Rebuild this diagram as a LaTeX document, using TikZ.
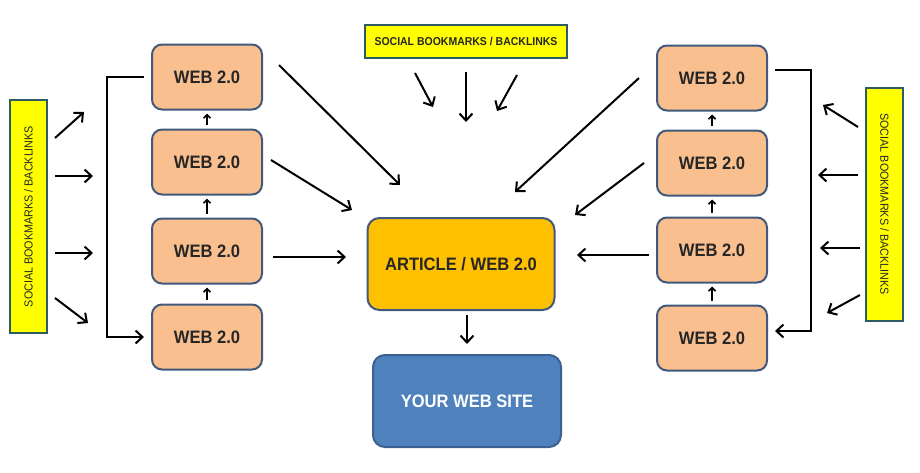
\documentclass[tikz,border=0pt]{standalone}
\usepackage{fontspec}
\setmainfont{Liberation Sans}[FakeStretch=0.92]
\usepackage{tikz}
\usetikzlibrary{positioning,arrows.meta}
\definecolor{webfill}{HTML}{F9BF8F}
\definecolor{boxline}{HTML}{41597A}
\definecolor{artfill}{HTML}{FFC000}
\definecolor{sitefill}{HTML}{4F81BD}
\definecolor{siteline}{HTML}{3A6190}
\definecolor{sbfill}{HTML}{FFFF00}
\definecolor{sbline}{HTML}{2E5A62}
\definecolor{inktext}{HTML}{262626}
\tikzset{
  webbox/.style={draw=boxline, line width=2pt, rounded corners=10pt, fill=webfill, minimum width=110pt, minimum height=65pt, font=\fontsize{18}{20}\selectfont\bfseries, text=inktext},
  artbox/.style={draw=boxline, line width=2pt, rounded corners=12pt, fill=artfill, minimum width=187pt, minimum height=92pt, font=\fontsize{18}{20}\selectfont\bfseries, text=inktext},
  sitebox/.style={draw=siteline, line width=2pt, rounded corners=12pt, fill=sitefill, minimum width=188pt, minimum height=92pt, font=\fontsize{18}{20}\selectfont\bfseries, text=white},
  sbbox/.style={draw=sbline, line width=2pt, fill=sbfill, inner sep=0pt, text=inktext},
  arrow/.style={-{Straight Barb[length=7pt,width=13pt]}, line width=2pt},
  uparrow/.style={-{Straight Barb[length=3.5pt,width=7pt]}, line width=1.6pt, shorten <=4pt, shorten >=3pt}
}
\begin{document}
\begin{tikzpicture}[x=1pt, y=-1pt]
  \fill[white] (0,0) rectangle (920,472);
  \useasboundingbox (0,0) rectangle (920,472);

  % left column
  \node[webbox] (l1) at (207,77) {WEB 2.0};
  \node[webbox] (l2) at (207,162) {WEB 2.0};
  \node[webbox] (l3) at (207,251) {WEB 2.0};
  \node[webbox] (l4) at (207,337) {WEB 2.0};
  % right column
  \node[webbox] (r1) at (712,78) {WEB 2.0};
  \node[webbox] (r2) at (712,163) {WEB 2.0};
  \node[webbox] (r3) at (712,250) {WEB 2.0};
  \node[webbox] (r4) at (712,338) {WEB 2.0};

  \node[artbox] (art) at (461,264) {ARTICLE / WEB 2.0};
  \node[sitebox] (site) at (467,401) {YOUR WEB SITE};

  % social bookmark boxes
  \node[sbbox, minimum width=202pt, minimum height=33pt, font=\fontsize{11.4}{12}\selectfont\bfseries] (sbtop) at (466,41.5) {SOCIAL BOOKMARKS / BACKLINKS};
  \node[sbbox, rotate=90, minimum width=233pt, minimum height=37pt, font=\fontsize{11.7}{12}\selectfont] (sbleft) at (28.5,216.5) {SOCIAL BOOKMARKS / BACKLINKS};
  \node[sbbox, rotate=-90, minimum width=233pt, minimum height=37pt, font=\fontsize{11.7}{12}\selectfont] (sbright) at (884.5,204) {SOCIAL BOOKMARKS / BACKLINKS};

  % chains
  \foreach \a/\b in {l2/l1, l3/l2, l4/l3, r2/r1, r3/r2, r4/r3}
    \draw[uparrow] (\a.north) -- (\b.south);

  % brackets
  \draw[arrow, shorten >=7pt] ([xshift=-7pt]l1.west) -- ++(-37,0) |- (l4.west);
  \draw[arrow] ([shift={(7,-8)}]r1.east) -- ++(36,0) |- ([shift={(7,-7)}]r4.east);

  % loose arrows
  \foreach \n/\sx/\sy/\ex/\ey in {
      la/55/138/84/112, lb/55/176/93/176, lc/55/253/93/253, ld/55/298/88/323,
      ra/858/127/823/105, rb/858/175/818/175, rc/860/248/820/248, rd/860/295/827/313,
      ta/415/73/433/107, tb/466/72/466/122, tc/517/75/497/111} {
    \coordinate (\n s) at (\sx,\sy);
    \coordinate (\n e) at (\ex,\ey);
    \draw[arrow] (\n s) -- (\n e);
  }

  % into the article
  \coordinate (artl1) at (400,185);
  \coordinate (artl2) at (352,210);
  \coordinate (artl3) at (346,257);
  \coordinate (artr1) at (515,192);
  \coordinate (artr2) at (575,215);
  \coordinate (artr3) at (577,255);
  \draw[arrow] ([shift={(16,-12)}]l1.east) -- (artl1);
  \draw[arrow] ([shift={(8,-2)}]l2.east) -- (artl2);
  \draw[arrow] ([shift={(10,6)}]l3.east) -- (artl3);
  \draw[arrow] ([shift={(-17,0)}]r1.west) -- (artr1);
  \draw[arrow] ([shift={(-12,0)}]r2.west) -- (artr2);
  \draw[arrow] ([shift={(-7,5)}]r3.west) -- (artr3);
  \draw[arrow, shorten <=4pt, shorten >=10pt] (art.south -| site.north) -- (site.north);
\end{tikzpicture}
\end{document}
